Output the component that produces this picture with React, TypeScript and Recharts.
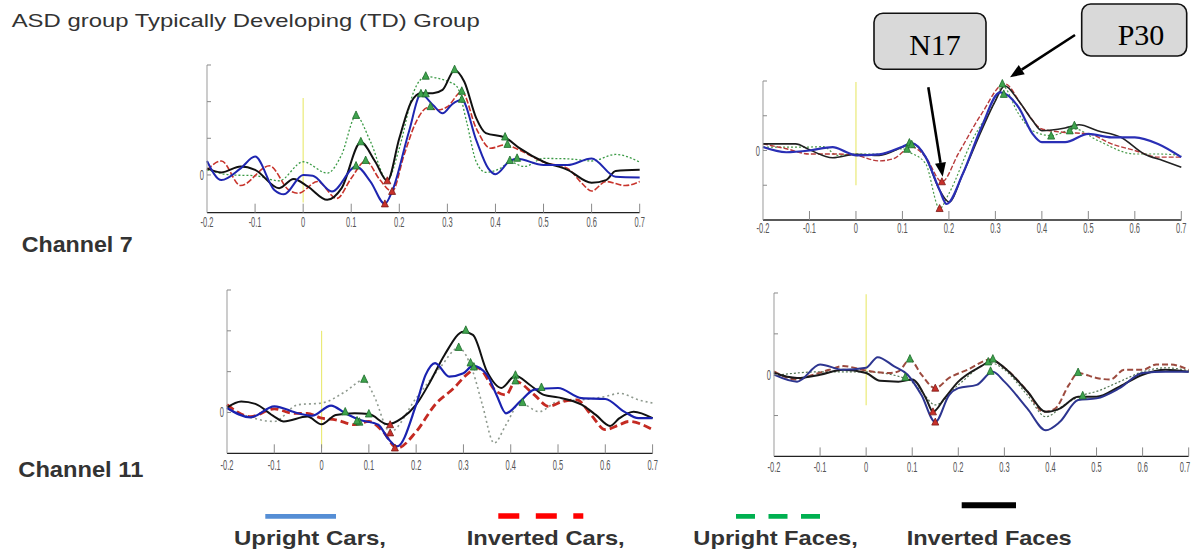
import React from 'react';
import { ComposedChart, Line, Scatter, XAxis, YAxis, ReferenceLine } from 'recharts';

type Pt = [number, number];

const timeTicks = [-0.2, -0.1, 0, 0.1, 0.2, 0.3, 0.4, 0.5, 0.6, 0.7];
const timeLabels = ['-0.2', '-0.1', '0', '0.1', '0.2', '0.3', '0.4', '0.5', '0.6', '0.7'];

const headerText = 'ASD group Typically Developing (TD) Group';
const channelNames = ['Channel 7', 'Channel 11'];
const legendNames = ['Upright Cars,', 'Inverted Cars,', 'Upright Faces,', 'Inverted Faces'];
const peakNames = ['N17', 'P30'];

// ---- Channel 7, ASD (top left) ----
const c7AsdUprightCars: Pt[] = [
  [-0.2, 0.38], [-0.17, -0.14], [-0.13, 0.18], [-0.1, 0.5], [-0.06, -0.41], [-0.04, -0.53], [0, 0],
  [0.02, -0.02], [0.06, -0.45], [0.11, 0.23], [0.14, -0.18], [0.17, -0.79], [0.185, -0.45], [0.22, 1.18],
  [0.245, 2.2], [0.27, 1.91], [0.29, 1.68], [0.31, 1.93], [0.33, 2.05], [0.36, 0.95], [0.385, 0.18],
  [0.4, 0.02], [0.43, 0.38], [0.445, 0.44], [0.5, 0.27], [0.55, 0.27], [0.6, 0.45], [0.65, -0.05], [0.7, -0.07],
];
const c7AsdInvertedCars: Pt[] = [
  [-0.2, 0.14], [-0.17, 0.38], [-0.13, -0.29], [-0.07, 0.25], [-0.03, -0.41], [-0.01, -0.5], [0.03, -0.18],
  [0.07, -0.64], [0.1, -0.09], [0.13, 0.38], [0.16, -0.14], [0.185, -0.45], [0.21, 0.55], [0.235, 1.45],
  [0.26, 1.84], [0.28, 1.77], [0.3, 1.86], [0.33, 2.27], [0.36, 1.27], [0.39, 0.73], [0.42, 0.82],
  [0.45, 0.68], [0.5, 0.35], [0.55, 0.18], [0.58, -0.23], [0.6, -0.44], [0.63, -0.18], [0.67, -0.29], [0.7, -0.18],
];
const c7AsdUprightFaces: Pt[] = [
  [-0.2, 0.14], [-0.15, 0], [-0.1, -0.02], [-0.05, -0.16], [0, 0.36], [0.05, 0.05], [0.08, 0.55],
  [0.11, 1.61], [0.14, 0.91], [0.175, -0.14], [0.2, 0.73], [0.23, 2.27], [0.255, 2.68], [0.28, 2.64],
  [0.3, 2.56], [0.32, 2.41], [0.34, 1.45], [0.36, 0.36], [0.38, 0.07], [0.41, 0.18], [0.43, 0.35],
  [0.46, 0.23], [0.5, 0.45], [0.55, 0.44], [0.6, 0.38], [0.65, 0.56], [0.7, 0.35],
];
const c7AsdInvertedFaces: Pt[] = [
  [-0.2, 0.18], [-0.17, 0.07], [-0.13, 0.23], [-0.1, 0.14], [-0.05, -0.36], [-0.02, -0.11], [0.01, -0.32],
  [0.05, -0.68], [0.08, -0.36], [0.12, 0.89], [0.15, 0.36], [0.175, -0.16], [0.2, 1.0], [0.225, 2.0],
  [0.245, 2.23], [0.27, 2.23], [0.29, 2.32], [0.315, 2.86], [0.335, 2.55], [0.36, 1.55], [0.38, 1.14],
  [0.42, 1.02], [0.45, 0.73], [0.5, 0.36], [0.55, 0.14], [0.6, -0.21], [0.63, -0.14], [0.65, 0.11], [0.7, 0.14],
];
const c7AsdPosPeaks: Pt[] = [
  [0.11, 1.61], [0.12, 0.89], [0.11, 0.23], [0.13, 0.38], [0.255, 2.68], [0.315, 2.86], [0.245, 2.2],
  [0.255, 2.2], [0.265, 1.85], [0.33, 2.27], [0.33, 2.05], [0.42, 1.02], [0.425, 0.82], [0.43, 0.38], [0.445, 0.44],
];
const c7AsdNegPeaks: Pt[] = [[0.175, -0.16], [0.17, -0.79], [0.185, -0.45]];

// ---- Channel 7, TD (top right) ----
const c7TdUprightCars: Pt[] = [
  [-0.2, 0.1], [-0.15, -0.05], [-0.1, 0], [-0.05, 0.1], [-0.02, -0.05], [0, -0.14], [0.05, -0.11],
  [0.1, 0.11], [0.12, 0.21], [0.15, -0.19], [0.18, -1.14], [0.195, -1.54], [0.23, -0.67], [0.27, 0.67],
  [0.31, 1.67], [0.35, 1.24], [0.38, 0.48], [0.4, 0.24], [0.45, 0.24], [0.5, 0.48], [0.55, 0.38],
  [0.6, 0.38], [0.65, 0.19], [0.7, -0.19],
];
const c7TdInvertedCars: Pt[] = [
  [-0.2, 0.19], [-0.15, 0.05], [-0.1, -0.1], [-0.05, -0.1], [0, -0.14], [0.05, -0.3], [0.08, -0.24],
  [0.12, 0.1], [0.15, -0.19], [0.185, -0.9], [0.22, -0.1], [0.27, 1.05], [0.32, 1.92], [0.36, 1.24],
  [0.4, 0.62], [0.45, 0.52], [0.5, 0.48], [0.55, 0.19], [0.6, 0], [0.65, -0.19], [0.7, -0.19],
];
const c7TdUprightFaces: Pt[] = [
  [-0.2, 0.1], [-0.1, 0.1], [-0.07, 0.11], [-0.04, -0.14], [0, -0.1], [0.05, -0.1], [0.1, 0.05],
  [0.115, -0.05], [0.15, -0.38], [0.18, -1.67], [0.2, -1.24], [0.25, 0.29], [0.3, 1.43], [0.315, 1.86],
  [0.35, 1.05], [0.38, 0.57], [0.42, 0.43], [0.47, 0.62], [0.52, 0.29], [0.6, -0.1], [0.65, -0.1], [0.7, -0.14],
];
const c7TdInvertedFaces: Pt[] = [
  [-0.2, 0.19], [-0.13, 0.19], [-0.1, 0.02], [-0.05, -0.21], [0, -0.11], [0.05, -0.14], [0.1, 0.1],
  [0.12, 0.21], [0.15, -0.19], [0.18, -1.14], [0.2, -1.48], [0.23, -0.67], [0.27, 0.57], [0.3, 1.43],
  [0.32, 1.86], [0.35, 1.43], [0.38, 0.86], [0.4, 0.57], [0.45, 0.65], [0.48, 0.74], [0.52, 0.57],
  [0.57, 0.38], [0.62, -0.1], [0.66, -0.29], [0.7, -0.48],
];
const c7TdPosPeaks: Pt[] = [
  [0.115, 0.2], [0.11, 0.02], [0.12, 0.15], [0.315, 1.9], [0.318, 1.6], [0.42, 0.4], [0.46, 0.55], [0.47, 0.7],
];
const c7TdNegPeaks: Pt[] = [[0.185, -0.9], [0.18, -1.67]];

// ---- Channel 11, ASD (bottom left) ----
const c11AsdUprightCars: Pt[] = [
  [-0.2, 0.11], [-0.15, -0.12], [-0.1, 0.15], [-0.05, -0.02], [-0.02, -0.08], [0.02, 0.17], [0.05, -0.02],
  [0.08, -0.18], [0.12, -0.3], [0.14, -0.63], [0.16, -0.83], [0.2, 0.19], [0.22, 0.92], [0.24, 1.21],
  [0.27, 0.88], [0.3, 0.96], [0.32, 1.14], [0.35, 0.92], [0.37, 0.43], [0.39, -0.02], [0.42, 0.27],
  [0.45, 0.56], [0.5, 0.6], [0.55, 0.35], [0.6, 0.33], [0.64, 0.02], [0.67, -0.14], [0.7, -0.14],
];
const c11AsdInvertedCars: Pt[] = [
  [-0.2, 0.19], [-0.15, -0.1], [-0.1, 0.09], [-0.06, -0.02], [-0.03, -0.02], [0, -0.14], [0.03, -0.18],
  [0.07, -0.3], [0.1, -0.22], [0.13, -0.47], [0.16, -0.87], [0.2, -0.47], [0.24, 0.19], [0.28, 0.6],
  [0.31, 0.96], [0.33, 1.09], [0.37, 0.51], [0.39, 0.43], [0.41, 0.76], [0.45, 0.43], [0.48, 0.15],
  [0.51, 0.27], [0.54, 0.31], [0.57, -0.06], [0.6, -0.42], [0.63, -0.3], [0.65, -0.22], [0.7, -0.42],
];
const c11AsdUprightFaces: Pt[] = [
  [-0.2, 0.11], [-0.1, -0.22], [-0.05, 0.19], [0, 0.23], [0.05, 0.51], [0.09, 0.8], [0.11, 0.43],
  [0.145, -0.47], [0.2, 0.35], [0.25, 1.09], [0.29, 1.58], [0.32, 1.0], [0.34, 0.19], [0.365, -0.75],
  [0.39, -0.3], [0.42, 0.23], [0.46, 0.02], [0.5, 0.27], [0.55, 0.31], [0.6, 0.39], [0.63, 0.47],
  [0.67, 0.31], [0.7, 0.23],
];
const c11AsdInvertedFaces: Pt[] = [
  [-0.2, 0.12], [-0.17, 0.27], [-0.14, 0.21], [-0.1, -0.1], [-0.08, -0.22], [-0.03, -0.1], [0, -0.29],
  [0.03, -0.06], [0.07, -0.02], [0.1, -0.04], [0.14, -0.29], [0.17, -0.14], [0.2, 0.19], [0.23, 0.76],
  [0.26, 1.41], [0.3, 1.98], [0.32, 1.9], [0.35, 1.0], [0.38, 0.6], [0.41, 0.9], [0.44, 0.68],
  [0.47, 0.43], [0.5, 0.37], [0.55, 0.19], [0.58, -0.06], [0.61, -0.33], [0.63, -0.14], [0.66, 0.02], [0.7, -0.14],
];
const c11AsdPosPeaks: Pt[] = [
  [0.09, 0.8], [0.305, 2.0], [0.29, 1.58], [0.315, 1.2], [0.322, 1.1], [0.41, 0.9], [0.41, 0.76],
  [0.425, 0.23], [0.465, 0.6], [0.05, 0.0], [0.08, -0.25], [0.1, -0.05], [0.075, -0.22],
];
const c11AsdNegPeaks: Pt[] = [[0.145, -0.3], [0.145, -0.5], [0.155, -0.87]];

// ---- Channel 11, TD (bottom right) ----
const c11TdUprightCars: Pt[] = [
  [-0.2, 0], [-0.15, -0.17], [-0.1, 0.25], [-0.05, 0.12], [0, 0.17], [0.025, 0.43], [0.06, 0.21],
  [0.09, 0], [0.12, -0.5], [0.15, -1.16], [0.18, -0.5], [0.2, -0.33], [0.24, -0.25], [0.275, 0.07],
  [0.3, -0.17], [0.35, -0.83], [0.39, -1.36], [0.42, -1.16], [0.46, -0.62], [0.5, -0.58], [0.55, -0.33],
  [0.6, 0.04], [0.65, 0.07], [0.7, 0.07],
];
const c11TdInvertedCars: Pt[] = [
  [-0.2, 0.08], [-0.15, -0.12], [-0.12, -0.02], [-0.08, 0.12], [-0.05, 0.21], [0, 0.1], [0.05, 0.04],
  [0.07, 0.08], [0.095, 0.37], [0.12, 0], [0.15, -0.33], [0.18, -0.08], [0.22, 0.12], [0.27, 0.37],
  [0.3, 0.17], [0.35, -0.41], [0.385, -0.91], [0.41, -0.83], [0.44, -0.25], [0.46, 0.04], [0.5, -0.08],
  [0.53, -0.12], [0.56, 0.12], [0.6, 0.12], [0.63, 0.25], [0.66, 0.25], [0.7, 0.12],
];
const c11TdUprightFaces: Pt[] = [
  [-0.2, -0.02], [-0.1, 0.07], [0, 0.07], [0.09, -0.11], [0.12, -0.41], [0.15, -0.74], [0.2, -0.25],
  [0.27, 0.29], [0.3, 0.12], [0.35, -0.5], [0.39, -1.03], [0.43, -0.74], [0.47, -0.5], [0.5, -0.41],
  [0.55, -0.17], [0.6, 0.07], [0.65, 0.17], [0.7, 0.1],
];
const c11TdInvertedFaces: Pt[] = [
  [-0.2, 0.04], [-0.15, -0.08], [-0.1, 0], [-0.05, 0.12], [0, 0.04], [0.03, -0.15], [0.07, -0.17],
  [0.1, -0.12], [0.13, -0.58], [0.145, -0.91], [0.17, -0.58], [0.2, -0.17], [0.25, 0.21], [0.275, 0.35],
  [0.3, 0.17], [0.35, -0.41], [0.39, -0.91], [0.42, -0.83], [0.46, -0.54], [0.5, -0.54], [0.55, -0.29],
  [0.6, 0], [0.65, 0.12], [0.7, 0.07],
];
const c11TdPosPeaks: Pt[] = [
  [0.095, 0.37], [0.085, -0.08], [0.265, 0.3], [0.275, 0.37], [0.27, 0.07], [0.46, 0.04], [0.47, -0.53],
];
const c11TdNegPeaks: Pt[] = [[0.15, -0.33], [0.145, -0.91], [0.15, -1.16]];

const rows = (pts: Pt[]) => pts.map(([t, v]) => ({ t, v }));

type LineStyle = { stroke: string; width: number; dash?: string };
type PanelProps = {
  left: number; top: number; plotW: number; plotH: number;
  yDomain: [number, number]; yTicks: number[]; stim: [number, number];
  series: [Pt[], Pt[], Pt[], Pt[]]; // upright cars, inverted cars, upright faces, inverted faces
  styles: [LineStyle, LineStyle, LineStyle, LineStyle];
  pos: Pt[]; neg: Pt[]; labelGap: number; atEdge?: boolean;
};

const YW = 24;
const MT = 8;
const MR = 14;
const XH = 24;

function ErpPanel(p: PanelProps) {
  const xTick = (t: any) => {
    const last = t.index === timeTicks.length - 1 && p.atEdge;
    return (
      <g>
        {t.index > 0 && <line x1={t.x} x2={t.x} y1={t.y} y2={t.y - 9} stroke="#8a8a8a" strokeWidth={1} />}
        <text
          transform={`translate(${last ? t.x + 1.5 : t.x},${t.y + p.labelGap}) scale(0.5,1)`}
          textAnchor={last ? 'end' : 'middle'}
          fontSize={15}
          fill="#555"
          fontFamily="Liberation Sans, Arial, sans-serif"
        >
          {timeLabels[t.index]}
        </text>
      </g>
    );
  };
  const yTick = (t: any) => (
    <g>
      <line x1={t.x} x2={t.x + 4} y1={t.y} y2={t.y} stroke="#8a8a8a" strokeWidth={1} />
      {t.payload.value === 0 && (
        <text
          transform={`translate(${t.x - 3},${t.y + 5}) scale(0.5,1)`}
          textAnchor="end"
          fontSize={15}
          fill="#555"
          fontFamily="Liberation Sans, Arial, sans-serif"
        >
          0
        </text>
      )}
    </g>
  );
  const tri = (s: any) => (
    <path
      d={`M${s.cx},${s.cy - 5} L${s.cx + 3.5},${s.cy + 2.5} L${s.cx - 3.5},${s.cy + 2.5} Z`}
      fill="#3fa34d"
      stroke="#1d6b2b"
      strokeWidth={0.8}
    />
  );
  const triRed = (s: any) => (
    <path
      d={`M${s.cx},${s.cy - 4} L${s.cx + 3.5},${s.cy + 3} L${s.cx - 3.5},${s.cy + 3} Z`}
      fill="#c8302a"
      stroke="#7a1a16"
      strokeWidth={0.8}
    />
  );
  const order = [2, 1, 3, 0];
  return (
    <div style={{ position: 'absolute', left: p.left - YW, top: p.top - MT }}>
      <ComposedChart
        width={YW + p.plotW + MR}
        height={MT + p.plotH + XH}
        margin={{ top: MT, right: MR, left: 0, bottom: 0 }}
      >
        <XAxis
          type="number"
          dataKey="t"
          domain={[-0.2, 0.7]}
          ticks={timeTicks}
          interval={0}
          height={XH}
          tickSize={0}
          tickMargin={0}
          tickLine={false}
          tick={xTick}
          axisLine={{ stroke: '#222', strokeWidth: 1.3 }}
        />
        <YAxis
          type="number"
          domain={p.yDomain}
          ticks={p.yTicks}
          interval={0}
          width={YW}
          tickSize={0}
          tickMargin={0}
          tickLine={false}
          tick={yTick}
          axisLine={{ stroke: '#9a9a9a', strokeWidth: 1 }}
        />
        <ReferenceLine
          segment={[{ x: 0, y: p.stim[0] }, { x: 0, y: p.stim[1] }]}
          stroke="#eaea78"
          strokeWidth={1.2}
          ifOverflow="visible"
        />
        {order.map((i) => (
          <Line
            key={i}
            data={rows(p.series[i])}
            dataKey="v"
            type="monotone"
            dot={false}
            stroke={p.styles[i].stroke}
            strokeWidth={p.styles[i].width}
            strokeDasharray={p.styles[i].dash}
            isAnimationActive={false}
          />
        ))}
        <Scatter data={rows(p.neg)} dataKey="v" shape={triRed} isAnimationActive={false} />
        <Scatter data={rows(p.pos)} dataKey="v" shape={tri} isAnimationActive={false} />
      </ComposedChart>
    </div>
  );
}

const sans = 'Liberation Sans, Arial, Helvetica, sans-serif';
const serif = 'Liberation Serif, Times New Roman, serif';

function Arrow({ x1, y1, x2, y2 }: { x1: number; y1: number; y2: number; x2: number }) {
  const dx = x2 - x1;
  const dy = y2 - y1;
  const len = Math.hypot(dx, dy);
  const ux = dx / len;
  const uy = dy / len;
  const hl = 14;
  const hw = 5.5;
  const bx = x2 - ux * hl;
  const by = y2 - uy * hl;
  return (
    <g>
      <line x1={x1} y1={y1} x2={bx} y2={by} stroke="#000" strokeWidth={2.6} />
      <path
        d={`M${x2},${y2} L${bx - uy * hw},${by + ux * hw} L${bx + uy * hw},${by - ux * hw} Z`}
        fill="#000"
      />
    </g>
  );
}

export default function App() {
  return (
    <div style={{ position: 'absolute', left: 0, top: 0, width: 1192, height: 553, background: '#fff', overflow: 'hidden' }}>
      <ErpPanel
        left={207.3} top={65} plotW={432.7} plotH={147.7}
        yDomain={[-1.03, 3]} yTicks={[0, 1, 2, 3]} stim={[2.1, -0.75]}
        series={[c7AsdUprightCars, c7AsdInvertedCars, c7AsdUprightFaces, c7AsdInvertedFaces]}
        styles={[
          { stroke: '#1f26b0', width: 2 },
          { stroke: '#c8342c', width: 1.6, dash: '6 2' },
          { stroke: '#3a9a45', width: 1.3, dash: '2 2' },
          { stroke: '#111', width: 2 },
        ]}
        pos={c7AsdPosPeaks} neg={c7AsdNegPeaks} labelGap={14}
      />
      <ErpPanel
        left={762.7} top={81} plotW={418.3} plotH={139}
        yDomain={[-2, 2]} yTicks={[-1, 0, 1, 2]} stim={[1.97, -1.0]}
        series={[c7TdUprightCars, c7TdInvertedCars, c7TdUprightFaces, c7TdInvertedFaces]}
        styles={[
          { stroke: '#2a2fb5', width: 2.2 },
          { stroke: '#b83a3a', width: 1.4, dash: '5 2' },
          { stroke: '#4a9a4a', width: 1.2, dash: '2 2' },
          { stroke: '#222', width: 1.6 },
        ]}
        pos={c7TdPosPeaks} neg={c7TdNegPeaks} labelGap={13}
      />
      <ErpPanel
        left={226.7} top={290} plotW={425.6} plotH={163.3}
        yDomain={[-1, 3]} yTicks={[0, 1, 2, 3]} stim={[2.0, -0.87]}
        series={[c11AsdUprightCars, c11AsdInvertedCars, c11AsdUprightFaces, c11AsdInvertedFaces]}
        styles={[
          { stroke: '#1a22b0', width: 2.2 },
          { stroke: '#c42a22', width: 2.8, dash: '8 4' },
          { stroke: '#8f9a8f', width: 1.6, dash: '2 3' },
          { stroke: '#111', width: 2 },
        ]}
        pos={c11AsdPosPeaks} neg={c11AsdNegPeaks} labelGap={17}
      />
      <ErpPanel
        left={774} top={293.3} plotW={414.7} plotH={163.4}
        yDomain={[-2, 2]} yTicks={[-1, 0, 1, 2]} stim={[1.97, -0.75]}
        series={[c11TdUprightCars, c11TdInvertedCars, c11TdUprightFaces, c11TdInvertedFaces]}
        styles={[
          { stroke: '#2d3590', width: 2 },
          { stroke: '#9c4a3e', width: 2, dash: '6 3' },
          { stroke: '#557755', width: 1.2, dash: '2 2' },
          { stroke: '#1a1a1a', width: 2 },
        ]}
        pos={c11TdPosPeaks} neg={c11TdNegPeaks} labelGap={16} atEdge
      />

      <svg width={1192} height={553} style={{ position: 'absolute', left: 0, top: 0, pointerEvents: 'none' }}>
        <text x={11.7} y={26.7} fontSize={19} fill="#333" fontFamily={sans} textLength={468} lengthAdjust="spacingAndGlyphs">
          {headerText}
        </text>
        <text x={21.7} y={251.7} fontSize={22} fontWeight="bold" fill="#333" fontFamily={sans} textLength={111} lengthAdjust="spacingAndGlyphs">
          {channelNames[0]}
        </text>
        <text x={18.3} y={476.7} fontSize={22} fontWeight="bold" fill="#333" fontFamily={sans} textLength={125} lengthAdjust="spacingAndGlyphs">
          {channelNames[1]}
        </text>

        {/* legend */}
        <line x1={265.3} x2={336} y1={516.3} y2={516.3} stroke="#558ed5" strokeWidth={4.7} />
        <line x1={498.3} x2={583.3} y1={516} y2={516} stroke="#ff0000" strokeWidth={5.5} strokeDasharray="21 16.5" />
        <line x1={736} x2={820} y1={516.3} y2={516.3} stroke="#00b050" strokeWidth={4.7} strokeDasharray="19 13.5" />
        <line x1={961.7} x2={1016} y1={505.3} y2={505.3} stroke="#000" strokeWidth={6} />
        {[
          [234, 152],
          [466.7, 158],
          [693.3, 164.6],
          [906.7, 165],
        ].map(([x, w], i) => (
          <text key={i} x={x} y={545} fontSize={21} fontWeight="bold" fill="#333" fontFamily={sans} textLength={w} lengthAdjust="spacingAndGlyphs">
            {legendNames[i]}
          </text>
        ))}

        {/* peak call-outs */}
        <rect x={874} y={13.3} width={112} height={56} rx={9} fill="#d9d9d9" stroke="#111" strokeWidth={1.6} />
        <text x={935} y={55} fontSize={30} fontFamily={serif} fill="#000" textAnchor="middle">{peakNames[0]}</text>
        <rect x={1081.7} y={4} width={105} height={52} rx={9} fill="#d9d9d9" stroke="#111" strokeWidth={1.6} />
        <text x={1141} y={45} fontSize={30} fontFamily={serif} fill="#000" textAnchor="middle">{peakNames[1]}</text>
        <Arrow x1={928.3} y1={87.3} x2={942.7} y2={176.7} />
        <Arrow x1={1075} y1={35} x2={1010} y2={77.3} />
      </svg>
    </div>
  );
}
